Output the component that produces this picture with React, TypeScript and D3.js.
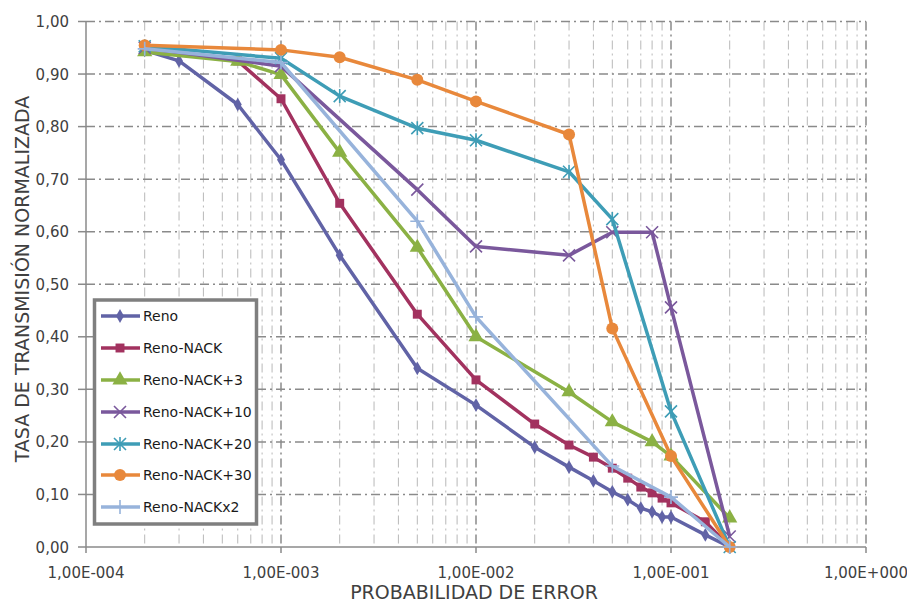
import React from 'react';
import * as d3 from 'd3';

// datos
const seriesNames = ['Reno', 'Reno-NACK', 'Reno-NACK+3', 'Reno-NACK+10', 'Reno-NACK+20', 'Reno-NACK+30', 'Reno-NACKx2'];
const colors = ['#6163a6', '#a2325f', '#8bb144', '#7a589c', '#3e9db6', '#e8883b', '#97b3db'];
const markers = ['diamond', 'square', 'triangle', 'x', 'star', 'circle', 'plus'];

const renoX = [2e-4, 3e-4, 6e-4, 1e-3, 2e-3, 5e-3, 1e-2, 2e-2, 3e-2, 4e-2, 5e-2, 6e-2, 7e-2, 8e-2, 9e-2, 1e-1, 1.5e-1, 2e-1];
const renoY = [0.945, 0.925, 0.842, 0.737, 0.555, 0.34, 0.27, 0.19, 0.152, 0.126, 0.105, 0.09, 0.074, 0.067, 0.057, 0.057, 0.023, 0];
const nackX = [2e-4, 6e-4, 1e-3, 2e-3, 5e-3, 1e-2, 2e-2, 3e-2, 4e-2, 5e-2, 6e-2, 7e-2, 8e-2, 9e-2, 1e-1, 1.5e-1, 2e-1];
const nackY = [0.945, 0.925, 0.853, 0.654, 0.443, 0.318, 0.234, 0.194, 0.171, 0.15, 0.131, 0.114, 0.103, 0.093, 0.084, 0.048, 0];
const nack3X = [2e-4, 6e-4, 1e-3, 2e-3, 5e-3, 1e-2, 3e-2, 5e-2, 8e-2, 1e-1, 2e-1];
const nack3Y = [0.942, 0.924, 0.899, 0.751, 0.57, 0.4, 0.295, 0.238, 0.2, 0.173, 0.055];
const nack10X = [2e-4, 1e-3, 5e-3, 1e-2, 3e-2, 5e-2, 8e-2, 1e-1, 2e-1];
const nack10Y = [0.95, 0.915, 0.68, 0.572, 0.555, 0.599, 0.599, 0.456, 0.02];
const nack20X = [2e-4, 1e-3, 2e-3, 5e-3, 1e-2, 3e-2, 5e-2, 1e-1, 2e-1];
const nack20Y = [0.953, 0.93, 0.858, 0.797, 0.774, 0.714, 0.624, 0.258, 0];
const nack30X = [2e-4, 1e-3, 2e-3, 5e-3, 1e-2, 3e-2, 5e-2, 1e-1, 2e-1];
const nack30Y = [0.955, 0.946, 0.932, 0.889, 0.848, 0.785, 0.416, 0.173, 0];
const nackx2X = [2e-4, 1e-3, 5e-3, 1e-2, 5e-2, 1e-1, 2e-1];
const nackx2Y = [0.948, 0.922, 0.62, 0.438, 0.154, 0.095, 0];

const xTicks = [1e-4, 1e-3, 1e-2, 1e-1, 1];
const xTickLabels = ['1,00E-004', '1,00E-003', '1,00E-002', '1,00E-001', '1,00E+000'];
const yTicks = [0, 0.1, 0.2, 0.3, 0.4, 0.5, 0.6, 0.7, 0.8, 0.9, 1.0];

const allX = [renoX, nackX, nack3X, nack10X, nack20X, nack30X, nackx2X];
const allY = [renoY, nackY, nack3Y, nack10Y, nack20Y, nack30Y, nackx2Y];

const W = 907;
const H = 604;
const left = 86, right = 866, top = 21.5, bottom = 547;

const font = 'DejaVu Sans, Verdana, sans-serif';

function Marker({ type, x, y, color }: { type: string; x: number; y: number; color: string }) {
  const t = `translate(${x},${y})`;
  if (type === 'diamond') return <path transform={t} d={d3.symbol().type(d3.symbolDiamond).size(55)()!} fill={color} />;
  if (type === 'square') return <path transform={t} d={d3.symbol().type(d3.symbolSquare).size(80)()!} fill={color} />;
  if (type === 'triangle') return <path transform={t} d={d3.symbol().type(d3.symbolTriangle).size(100)()!} fill={color} />;
  if (type === 'circle') return <circle cx={x} cy={y} r={6} fill={color} />;
  if (type === 'x')
    return <path transform={t} d="M-6,-6L6,6M-6,6L6,-6" stroke={color} strokeWidth={1.6} fill="none" />;
  if (type === 'star')
    return <path transform={t} d="M-6,-6L6,6M-6,6L6,-6M0,-7L0,7" stroke={color} strokeWidth={1.6} fill="none" />;
  return <path transform={t} d="M-7,0L7,0M0,-7L0,7" stroke={color} strokeWidth={1.6} fill="none" />;
}

export default function App() {
  const x = d3.scaleLog().domain([1e-4, 1]).range([left, right]);
  const y = d3.scaleLinear().domain([0, 1]).range([bottom, top]);

  const line = d3.line<[number, number]>()
    .x((d) => x(d[0]))
    .y((d) => y(d[1]));

  const minor: number[] = [];
  for (let e = -4; e < 0; e++) {
    for (let k = 2; k <= 9; k++) minor.push(k * Math.pow(10, e));
  }

  const dash = '9,4,2,4';
  const legendY = [316, 348, 380, 412, 444, 475, 507];

  return (
    <svg width={W} height={H} style={{ position: 'absolute', left: 0, top: 0, background: '#fff' }}>
      <rect x={0} y={0} width={W} height={H} fill="#fff" />
      {/* rejilla */}
      {minor.map((v, i) => (
        <line key={'m' + i} x1={x(v)} x2={x(v)} y1={top} y2={bottom} stroke="#b8b8b8" strokeWidth={1} strokeDasharray={dash} />
      ))}
      {xTicks.slice(1).map((v, i) => (
        <line key={'M' + i} x1={x(v)} x2={x(v)} y1={top} y2={bottom} stroke="#8a8a8a" strokeWidth={1.5} strokeDasharray={dash} />
      ))}
      {yTicks.slice(1).map((v, i) => (
        <line key={'h' + i} x1={left} x2={right} y1={y(v)} y2={y(v)} stroke="#8a8a8a" strokeWidth={1.5} strokeDasharray={dash} />
      ))}
      {/* ejes */}
      <line x1={left} x2={left} y1={top} y2={bottom} stroke="#8a8a8a" strokeWidth={1.5} />
      <line x1={left} x2={right} y1={bottom} y2={bottom} stroke="#8a8a8a" strokeWidth={1.5} />
      {yTicks.map((v, i) => (
        <g key={'yt' + i}>
          <line x1={left - 8} x2={left} y1={y(v)} y2={y(v)} stroke="#8a8a8a" strokeWidth={1.5} />
          <text x={69} y={y(v) + 5.5} textAnchor="end" fontFamily={font} fontSize={15} fill="#404040">
            {v.toFixed(2).replace('.', ',')}
          </text>
        </g>
      ))}
      {xTicks.map((v, i) => (
        <g key={'xt' + i}>
          <line x1={x(v)} x2={x(v)} y1={bottom} y2={bottom + 6} stroke="#8a8a8a" strokeWidth={1.5} />
          <text x={x(v)} y={578} textAnchor="middle" fontFamily={font} fontSize={15} fill="#404040">
            {xTickLabels[i]}
          </text>
        </g>
      ))}
      <text x={474} y={599} textAnchor="middle" fontFamily={font} fontSize={19} fill="#404040">
        PROBABILIDAD DE ERROR
      </text>
      <text transform="translate(29,279) rotate(-90)" textAnchor="middle" fontFamily={font} fontSize={19} fill="#404040">
        TASA DE TRANSMISIÓN NORMALIZADA
      </text>

      {/* series */}
      {seriesNames.map((name, s) => {
        const pts: [number, number][] = allX[s].map((v, i) => [v, allY[s][i]]);
        return (
          <g key={name}>
            <path d={line(pts)!} fill="none" stroke={colors[s]} strokeWidth={3.5} strokeLinejoin="round" />
            {pts.map((p, i) => (
              <Marker key={i} type={markers[s]} x={x(p[0])} y={y(p[1])} color={colors[s]} />
            ))}
          </g>
        );
      })}

      {/* leyenda */}
      <rect x={94.5} y={300} width={162} height={224} fill="#fff" stroke="#7f7f7f" strokeWidth={3.5} />
      {seriesNames.map((name, s) => (
        <g key={'lg' + s}>
          <line x1={101} x2={140} y1={legendY[s]} y2={legendY[s]} stroke={colors[s]} strokeWidth={3.5} />
          <Marker type={markers[s]} x={120} y={legendY[s]} color={colors[s]} />
          <text x={143} y={legendY[s] + 5} fontFamily={font} fontSize={14} fill="#1a1a1a">
            {name}
          </text>
        </g>
      ))}
    </svg>
  );
}
